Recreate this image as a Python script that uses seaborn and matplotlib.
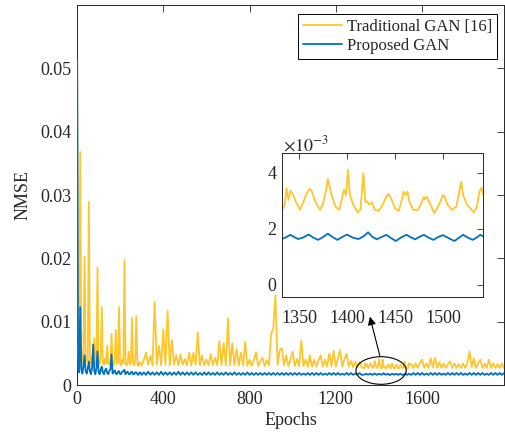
import numpy as np
import pandas as pd
import matplotlib
matplotlib.use("Agg")
import matplotlib.pyplot as plt
from matplotlib.lines import Line2D
from matplotlib.patches import Ellipse
import seaborn as sns

# ---------------- training curves (NMSE per epoch) ----------------
series_names = ["Traditional GAN [16]", "Proposed GAN"]
series_colors = ["#FFC62E", "#0072BD"]

# epoch 1, then epochs 5..295 every 5 epochs
epochs_early = np.r_[1, np.arange(5, 300, 5)]
trad_early = [
    0.0502, 0.0045, 0.0060, 0.0368, 0.0040, 0.0035, 0.0055, 0.0203, 0.0038, 0.0042,
    0.0036, 0.0289, 0.0040, 0.0033, 0.0045, 0.0038, 0.0074, 0.0034, 0.0040, 0.0185,
    0.0036, 0.0033, 0.0045, 0.0123, 0.0035, 0.0032, 0.0042, 0.0034, 0.0062, 0.0033,
    0.0036, 0.0032, 0.0081, 0.0034, 0.0031, 0.0040, 0.0087, 0.0033, 0.0036, 0.0123,
    0.0034, 0.0031, 0.0040, 0.0034, 0.0197, 0.0033, 0.0031, 0.0036, 0.0053, 0.0032,
    0.0037, 0.0106, 0.0034, 0.0031, 0.0040, 0.0109, 0.0033, 0.0030, 0.0036, 0.0034,
]
prop_early = [
    0.0512, 0.0025, 0.0020, 0.0123, 0.0025, 0.0018, 0.0030, 0.0047, 0.0022, 0.0018,
    0.0026, 0.0037, 0.0021, 0.0017, 0.0028, 0.0064, 0.0022, 0.0017, 0.0027, 0.0053,
    0.0021, 0.0017, 0.0024, 0.0029, 0.0020, 0.0017, 0.0023, 0.0026, 0.0019, 0.0017,
    0.0022, 0.0025, 0.0048, 0.0018, 0.0021, 0.0023, 0.0018, 0.0017, 0.0021, 0.0022,
    0.0017, 0.0018, 0.0021, 0.0022, 0.0024, 0.0017, 0.0020, 0.0021, 0.0017, 0.0017,
    0.0020, 0.0021, 0.0017, 0.0017, 0.0020, 0.0020, 0.0017, 0.0016, 0.0020, 0.0019,
]

# epochs 300..1320, every 10 epochs
epochs_mid = np.arange(300, 1330, 10)
trad_mid = [
    0.0031, 0.0040, 0.0051, 0.0032, 0.0046, 0.0031, 0.0131, 0.0032, 0.0062, 0.0031,
    0.0088, 0.0032, 0.0117, 0.0031, 0.0071, 0.0032, 0.0047, 0.0031, 0.0048, 0.0032,
    0.0041, 0.0031, 0.0051, 0.0031, 0.0051, 0.0032, 0.0083, 0.0031, 0.0047, 0.0031,
    0.0040, 0.0031, 0.0049, 0.0031, 0.0043, 0.0031, 0.0069, 0.0031, 0.0066, 0.0031,
    0.0105, 0.0031, 0.0066, 0.0031, 0.0057, 0.0031, 0.0051, 0.0031, 0.0068, 0.0030,
    0.0040, 0.0030, 0.0039, 0.0052, 0.0030, 0.0038, 0.0043, 0.0030, 0.0039, 0.0031,
    0.0080, 0.0090, 0.0141, 0.0032, 0.0055, 0.0058, 0.0031, 0.0047, 0.0030, 0.0040,
    0.0053, 0.0030, 0.0041, 0.0030, 0.0070, 0.0030, 0.0040, 0.0029, 0.0047, 0.0029,
    0.0040, 0.0029, 0.0039, 0.0047, 0.0029, 0.0040, 0.0029, 0.0050, 0.0030, 0.0054,
    0.0029, 0.0042, 0.0055, 0.0029, 0.0041, 0.0049, 0.0029, 0.0038, 0.0028, 0.0037,
    0.0028, 0.0036, 0.0028,
]
prop_mid = [
    0.0016, 0.0020, 0.0016, 0.0021, 0.0016, 0.0020, 0.0016, 0.0020, 0.0016, 0.0021,
    0.0016, 0.0020, 0.0016, 0.0020, 0.0016, 0.0020, 0.0016, 0.0021, 0.0016, 0.0020,
    0.0016, 0.0020, 0.0016, 0.0020, 0.0016, 0.0020, 0.0016, 0.0019, 0.0016, 0.0020,
    0.0016, 0.0020, 0.0016, 0.0019, 0.0016, 0.0020, 0.0016, 0.0019, 0.0016, 0.0020,
    0.0016, 0.0019, 0.0016, 0.0020, 0.0016, 0.0019, 0.0016, 0.0019, 0.0016, 0.0020,
    0.0016, 0.0019, 0.0016, 0.0019, 0.0016, 0.0019, 0.0016, 0.0019, 0.0016, 0.0019,
    0.0016, 0.0019, 0.0016, 0.0019, 0.0016, 0.0019, 0.0016, 0.0019, 0.0016, 0.0019,
    0.0016, 0.0019, 0.0016, 0.0019, 0.0016, 0.0018, 0.0016, 0.0019, 0.0016, 0.0019,
    0.0016, 0.0019, 0.0016, 0.0019, 0.0016, 0.0018, 0.0016, 0.0019, 0.0016, 0.0019,
    0.0016, 0.0019, 0.0016, 0.0018, 0.0016, 0.0019, 0.0016, 0.0019, 0.0016, 0.0018,
    0.0016, 0.0019, 0.0016,
]

# epochs 1332..1542, finely resolved (values in units of 1e-3)
epochs_fine_trad = [
    1332, 1335, 1337, 1339, 1341, 1343, 1346, 1351, 1354, 1358,
    1361, 1363, 1367, 1372, 1375, 1378, 1380, 1382, 1384, 1388,
    1392, 1394, 1397, 1399, 1401, 1403, 1406, 1411, 1414, 1417,
    1419, 1421, 1423, 1426, 1429, 1433, 1437, 1441, 1443, 1446,
    1450, 1454, 1457, 1459, 1461, 1463, 1465, 1469, 1474, 1478,
    1480, 1481, 1483, 1487, 1491, 1494, 1498, 1500, 1502, 1504,
    1509, 1514, 1517, 1519, 1521, 1525, 1528, 1532, 1535, 1538,
    1540, 1542,
]
trad_fine_e3 = [
    2.63, 2.85, 3.44, 3.03, 3.35, 3.27, 3.02, 2.67, 2.90, 3.26,
    3.42, 3.36, 2.96, 2.67, 2.90, 3.32, 3.77, 3.50, 3.19, 2.79,
    2.67, 2.96, 3.40, 3.20, 4.10, 3.20, 2.90, 2.58, 2.67, 3.98,
    2.96, 2.98, 2.86, 2.93, 2.67, 2.63, 2.85, 3.14, 3.24, 3.08,
    2.73, 2.63, 3.02, 3.32, 3.20, 3.32, 2.96, 2.67, 2.67, 2.96,
    3.14, 3.05, 3.14, 2.85, 2.55, 2.73, 3.02, 3.20, 3.14, 2.90,
    2.67, 2.79, 3.32, 3.68, 3.20, 2.85, 2.75, 2.58, 2.73, 3.32,
    3.46, 3.19,
]
epochs_fine_prop = [
    1333, 1337, 1341, 1345, 1349, 1354, 1360, 1365, 1370, 1375,
    1380, 1385, 1390, 1395, 1400, 1406, 1412, 1417, 1422, 1426,
    1431, 1436, 1441, 1446, 1451, 1456, 1462, 1466, 1471, 1475,
    1480, 1485, 1490, 1495, 1500, 1506, 1512, 1516, 1521, 1526,
    1531, 1535, 1539, 1542,
]
prop_fine_e3 = [
    1.64, 1.70, 1.78, 1.70, 1.63, 1.68, 1.79, 1.68, 1.60, 1.70,
    1.82, 1.70, 1.60, 1.70, 1.79, 1.68, 1.63, 1.72, 1.87, 1.72,
    1.62, 1.70, 1.78, 1.66, 1.56, 1.68, 1.78, 1.70, 1.62, 1.70,
    1.78, 1.68, 1.60, 1.70, 1.77, 1.66, 1.56, 1.66, 1.78, 1.68,
    1.60, 1.68, 1.78, 1.72,
]

# epochs 1550..1980, every 10 epochs
epochs_late = np.arange(1550, 1990, 10)
trad_late = [
    0.0033, 0.0027, 0.0034, 0.0027, 0.0035, 0.0040, 0.0027, 0.0034, 0.0027, 0.0042,
    0.0028, 0.0043, 0.0027, 0.0036, 0.0027, 0.0034, 0.0027, 0.0033, 0.0037, 0.0027,
    0.0034, 0.0027, 0.0033, 0.0027, 0.0034, 0.0027, 0.0035, 0.0053, 0.0028, 0.0042,
    0.0027, 0.0034, 0.0040, 0.0027, 0.0034, 0.0027, 0.0040, 0.0027, 0.0034, 0.0027,
    0.0033, 0.0027, 0.0034, 0.0027,
]
prop_late = [
    0.0016, 0.0019, 0.0016, 0.0019, 0.0016, 0.0019, 0.0016, 0.0018, 0.0016, 0.0019,
    0.0016, 0.0019, 0.0016, 0.0019, 0.0016, 0.0018, 0.0016, 0.0019, 0.0016, 0.0019,
    0.0016, 0.0019, 0.0016, 0.0019, 0.0016, 0.0018, 0.0016, 0.0019, 0.0016, 0.0019,
    0.0016, 0.0019, 0.0016, 0.0019, 0.0016, 0.0018, 0.0016, 0.0019, 0.0016, 0.0019,
    0.0016, 0.0019, 0.0016, 0.0019,
]

x_ticks = [0, 400, 800, 1200, 1600]
y_ticks = [0, 0.01, 0.02, 0.03, 0.04, 0.05]
y_tick_labels = ["0", "0.01", "0.02", "0.03", "0.04", "0.05"]
inset_x_ticks = [1350, 1400, 1450, 1500]
inset_y_ticks = [0, 0.002, 0.004]
inset_y_tick_labels = ["0", "2", "4"]

# ---------------- assemble long-form table ----------------
trad_epochs = np.concatenate([epochs_early, epochs_mid, epochs_fine_trad, epochs_late])
trad_vals = np.concatenate([trad_early, trad_mid, np.array(trad_fine_e3) * 1e-3, trad_late])
prop_epochs = np.concatenate([epochs_early, epochs_mid, epochs_fine_prop, epochs_late])
prop_vals = np.concatenate([prop_early, prop_mid, np.array(prop_fine_e3) * 1e-3, prop_late])

df = pd.concat([
    pd.DataFrame({"Epoch": trad_epochs, "NMSE": trad_vals, "Model": series_names[0]}),
    pd.DataFrame({"Epoch": prop_epochs, "NMSE": prop_vals, "Model": series_names[1]}),
], ignore_index=True)

# ---------------- styling ----------------
sns.set_style("white")
plt.rcParams["font.family"] = ["Liberation Serif", "DejaVu Serif"]
plt.rcParams["mathtext.fontset"] = "stix"
axis_gray = "#262626"
fs = 13

W, H = 506, 440
fig = plt.figure(figsize=(W / 100, H / 100), dpi=100)
palette = dict(zip(series_names, series_colors))


def px_rect(x0, y0, x1, y1):
    return [x0 / W, 1 - y1 / H, (x1 - x0) / W, (y1 - y0) / H]


def style_axes(a, length, xpad=4):
    for s in a.spines.values():
        s.set_visible(True)
        s.set_color(axis_gray)
        s.set_linewidth(0.7)
    a.tick_params(direction="in", top=True, right=True, length=length, width=0.6,
                  colors=axis_gray, labelsize=fs, pad=4)
    a.tick_params(axis="x", pad=xpad)


ax = fig.add_axes(px_rect(77, 5, 504, 385))
sns.lineplot(data=df, x="Epoch", y="NMSE", hue="Model", hue_order=series_names,
             palette=palette, estimator=None, sort=False, linewidth=1.3,
             legend=False, ax=ax)
# keep the curves above the frame so the first-epoch values stay visible
for ln in ax.lines:
    ln.set_zorder(3)
ax.set_xlim(0, 1980)
ax.set_ylim(0, 0.06)
ax.set_xticks(x_ticks)
ax.set_xticklabels([str(t) for t in x_ticks])
ax.set_yticks(y_ticks)
ax.set_yticklabels(y_tick_labels)
style_axes(ax, 5)
ax.set_xlabel("Epochs", fontsize=fs, color=axis_gray, labelpad=3)
ax.set_ylabel("NMSE", fontsize=fs, color=axis_gray, labelpad=6)

handles = [Line2D([], [], color=c, lw=1.3) for c in series_colors]
leg = ax.legend(handles, series_names, loc="upper right",
                bbox_to_anchor=(1 - 7 / 427, 1 - 9 / 380), borderaxespad=0,
                fontsize=12, frameon=True, fancybox=False, framealpha=1,
                edgecolor="black", handlelength=2.3, handletextpad=0.3,
                labelspacing=0.2, borderpad=0.3)
leg.get_frame().set_linewidth(0.7)
leg.set_zorder(10)
for t in leg.get_texts():
    t.set_color(axis_gray)

# highlight region and pointer to the zoomed view
ax.add_patch(Ellipse((1410, 0.00229), width=233, height=0.00436, fill=False,
                     edgecolor="black", lw=0.8, zorder=5))
ax.annotate("", xy=(1358, 0.01079), xytext=(1404, 0.00463),
            arrowprops=dict(arrowstyle="-|>", color="black", lw=0.8,
                            mutation_scale=12, shrinkA=0, shrinkB=0), zorder=6)

# ---------------- zoomed inset ----------------
axi = fig.add_axes(px_rect(282.3, 153.3, 482.7, 297.3))
axi.set_facecolor("white")
sns.lineplot(data=df, x="Epoch", y="NMSE", hue="Model", hue_order=series_names,
             palette=palette, estimator=None, sort=False, linewidth=1.3,
             legend=False, ax=axi)
axi.set_xlim(1332.6, 1541.4)
axi.set_ylim(-0.00045, 0.00469)
axi.set_xticks(inset_x_ticks)
axi.set_xticklabels([str(t) for t in inset_x_ticks])
axi.set_yticks(inset_y_ticks)
axi.set_yticklabels(inset_y_tick_labels)
axi.set_xlabel("")
axi.set_ylabel("")
style_axes(axi, 4, xpad=9.5)
fig.text(283 / W, 1 - 151 / H, r"$\times10^{-3}$", fontsize=fs, color=axis_gray,
         ha="left", va="baseline")

fig.savefig("out.png", dpi=100)
